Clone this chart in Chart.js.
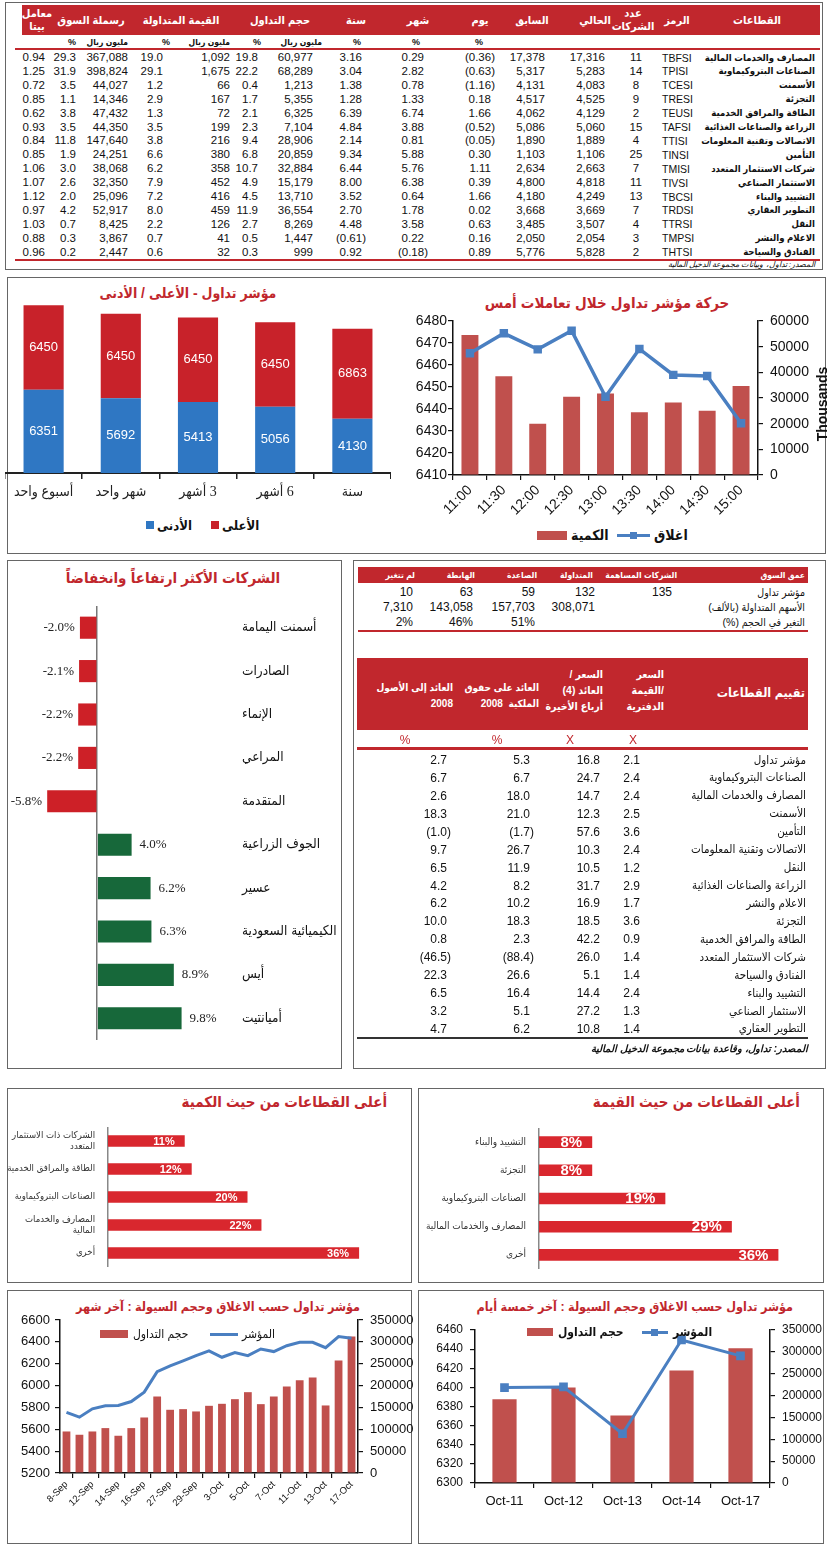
<!DOCTYPE html>
<html lang="ar">
<head>
<meta charset="utf-8">
<title>تقرير السوق</title>
<script src="https://cdn.jsdelivr.net/npm/chart.js@4.4.1/dist/chart.umd.min.js"></script>
<style>
  html, body { margin: 0; padding: 0; background: #fff; }
  #page { position: relative; width: 830px; height: 1546px; overflow: hidden;
          font-family: 'Liberation Sans', 'DejaVu Sans Condensed', 'DejaVu Sans', sans-serif; color: #111; }
  .t { position: absolute; white-space: pre; font-stretch: condensed; }
  .r { position: absolute; }
  .box { position: absolute; box-sizing: border-box; border: 1.5px solid #666; }
</style>
</head>
<body>
<div id="page"></div>
<script>
// ---------- sector performance table ----------
const sectorNames = ['المصارف والخدمات المالية', 'الصناعات البتروكيماوية', 'الأسمنت', 'التجزئة', 'الطاقة والمرافق الخدمية',
  'الزراعة والصناعات الغذائية', 'الاتصالات وتقنية المعلومات', 'التأمين', 'شركات الاستثمار المتعدد', 'الاستثمار الصناعي',
  'التشييد والبناء', 'التطوير العقاري', 'النقل', 'الاعلام والنشر', 'الفنادق والسياحة'];
const sectorCodes = ['TBFSI', 'TPISI', 'TCESI', 'TRESI', 'TEUSI', 'TAFSI', 'TTISI', 'TINSI', 'TMISI', 'TIVSI', 'TBCSI', 'TRDSI', 'TTRSI', 'TMPSI', 'THTSI'];
const companyCount = [11, 14, 8, 9, 2, 15, 4, 25, 7, 11, 13, 7, 4, 3, 2];
const closeNow = [17316, 5283, 4083, 4525, 4129, 5060, 1889, 1106, 2663, 4818, 4249, 3669, 3507, 2054, 5828];
const closePrev = [17378, 5317, 4131, 4517, 4062, 5086, 1890, 1103, 2634, 4800, 4180, 3668, 3485, 2050, 5776];
const chgDay = [-0.36, -0.63, -1.16, 0.18, 1.66, -0.52, -0.05, 0.30, 1.11, 0.39, 1.66, 0.02, 0.63, 0.16, 0.89];
const chgMonth = [0.29, 2.82, 0.78, 1.33, 6.74, 3.88, 0.81, 5.88, 5.76, 6.38, 0.64, 1.78, 3.58, 0.22, -0.18];
const chgYear = [3.16, 3.04, 1.38, 1.28, 6.39, 4.84, 2.14, 9.34, 6.44, 8.00, 3.52, 2.70, 4.48, -0.61, 0.92];
const volMn = [60977, 68289, 1213, 5355, 6325, 7104, 28906, 20859, 32884, 15179, 13710, 36554, 8269, 1447, 999];
const volPct = [19.8, 22.2, 0.4, 1.7, 2.1, 2.3, 9.4, 6.8, 10.7, 4.9, 4.5, 11.9, 2.7, 0.5, 0.3];
const valMn = [1092, 1675, 66, 167, 72, 199, 216, 380, 358, 452, 416, 459, 126, 41, 32];
const valPct = [19.0, 29.1, 1.2, 2.9, 1.3, 3.5, 3.8, 6.6, 6.2, 7.9, 7.2, 8.0, 2.2, 0.7, 0.6];
const capMn = [367088, 398824, 44027, 14346, 47432, 44350, 147640, 24251, 38068, 32350, 25096, 52917, 8425, 3867, 2447];
const capPct = [29.3, 31.9, 3.5, 1.1, 3.8, 3.5, 11.8, 1.9, 3.0, 2.6, 2.0, 4.2, 0.7, 0.3, 0.2];
const betaCoef = [0.94, 1.25, 0.72, 0.85, 0.62, 0.93, 0.84, 0.85, 1.06, 1.07, 1.12, 0.97, 1.03, 0.88, 0.96];

// ---------- TASI high / low ----------
const hlPeriods = ['أسبوع واحد', 'شهر واحد', '3 أشهر', '6 أشهر', 'سنة'];
const hlLow = [6351, 5692, 5413, 5056, 4130];
const hlHigh = [6450, 6450, 6450, 6450, 6863];

// ---------- intraday ----------
const intradayTimes = ['11:00', '11:30', '12:00', '12:30', '13:00', '13:30', '14:00', '14:30', '15:00'];
const intradayClose = [6465.3, 6474.4, 6467.1, 6475.6, 6445.6, 6467.3, 6455.5, 6455.0, 6433.5];
const intradayVolume = [54500, 38500, 20000, 30500, 31800, 24400, 28200, 25000, 34700];

// ---------- top movers ----------
const moverNames = ['أسمنت اليمامة', 'الصادرات', 'الإنماء', 'المراعي', 'المتقدمة', 'الجوف الزراعية', 'عسير', 'الكيميائية السعودية', 'أيس', 'أميانتيت'];
const moverChange = [-2.0, -2.1, -2.2, -2.2, -5.8, 4.0, 6.2, 6.3, 8.9, 9.8];

// ---------- market depth ----------
const depthHeads = ['عمق السوق', 'الشركات المساهمة', 'المتداولة', 'الصاعدة', 'الهابطة', 'لم تتغير'];
const depthRows = ['مؤشر تداول', 'الأسهم المتداولة (بالألف)', 'التغير في الحجم (%)'];
const depthCompanies = [135, 132, 59, 63, 10];
const depthShares = [308071, 157703, 143058, 7310];
const depthSharePct = [51, 46, 2];

// ---------- sector valuation ----------
const valuationSectors = ['مؤشر تداول', 'الصناعات البتروكيماوية', 'المصارف والخدمات المالية', 'الأسمنت', 'التأمين',
  'الاتصالات وتقنية المعلومات', 'النقل', 'الزراعة والصناعات الغذائية', 'الاعلام والنشر', 'التجزئة',
  'الطاقة والمرافق الخدمية', 'شركات الاستثمار المتعدد', 'الفنادق والسياحة', 'التشييد والبناء', 'الاستثمار الصناعي', 'التطوير العقاري'];
const priceBook = [2.1, 2.4, 2.4, 2.5, 3.6, 2.4, 1.2, 2.9, 1.7, 3.6, 0.9, 1.4, 1.4, 2.4, 1.3, 1.4];
const priceEarn = [16.8, 24.7, 14.7, 12.3, 57.6, 10.3, 10.5, 31.7, 16.9, 18.5, 42.2, 26.0, 5.1, 14.4, 27.2, 10.8];
const roe2008 = [5.3, 6.7, 18.0, 21.0, -1.7, 26.7, 11.9, 8.2, 10.2, 18.3, 2.3, -88.4, 26.6, 16.4, 5.1, 6.2];
const roa2008 = [2.7, 6.7, 2.6, 18.3, -1.0, 9.7, 6.5, 4.2, 6.2, 10.0, 0.8, -46.5, 22.3, 6.5, 3.2, 4.7];

// ---------- top sectors by volume / value ----------
const qtySectors = [['الشركات ذات الاستثمار', 'المتعدد'], 'الطاقة والمرافق الخدمية', 'الصناعات البتروكيماوية', ['المصارف والخدمات', 'المالية'], 'أخرى'];
const qtyShare = [11, 12, 20, 22, 36];
const valueSectors = ['التشييد والبناء', 'التجزئة', 'الصناعات البتروكيماوية', 'المصارف والخدمات المالية', 'أخرى'];
const valueShare = [8, 8, 19, 29, 36];

// ---------- last month / last five days ----------
const monthDates = ['8-Sep', '9-Sep', '12-Sep', '13-Sep', '14-Sep', '15-Sep', '16-Sep', '26-Sep', '27-Sep', '28-Sep', '29-Sep', '30-Sep',
  '3-Oct', '4-Oct', '5-Oct', '6-Oct', '7-Oct', '10-Oct', '11-Oct', '12-Oct', '13-Oct', '14-Oct', '17-Oct'];
const monthIndex = [5754, 5711, 5787, 5815, 5818, 5854, 5940, 6128, 6180, 6226, 6274, 6317,
  6259, 6302, 6274, 6335, 6311, 6365, 6396, 6396, 6347, 6448, 6433];
const monthVolume = [95000, 87500, 95000, 102700, 85200, 102700, 127000, 175000, 144600, 146100, 140800, 153700,
  158300, 168900, 184900, 157500, 175000, 197800, 212300, 218400, 154500, 257200, 312000];
const weekDates = ['Oct-11', 'Oct-12', 'Oct-13', 'Oct-14', 'Oct-17'];
const weekIndex = [6399.8, 6400.5, 6351.5, 6449.6, 6432.9];
const weekVolume = [191700, 218400, 154500, 257200, 308200];

const RED = '#c1272d';
const BAR_RED = '#c0504d';
const LINE_BLUE = '#4a7fc1';
const AR_FONT = "'DejaVu Sans Condensed', 'DejaVu Sans', sans-serif";
const page = document.getElementById('page');

function el(cls, css) {
  const d = document.createElement('div');
  d.className = cls;
  d.style.cssText = css;
  page.appendChild(d);
  return d;
}
function box(l, t, r, b) { el('box', `left:${l}px;top:${t}px;width:${r - l}px;height:${b - t}px`); }
function rect(l, t, w, h, c) { el('r', `left:${l}px;top:${t}px;width:${w}px;height:${h}px;background:${c}`); }
function put(str, x, y, o = {}) {
  const size = o.size || 11, lh = o.lh || Math.round(size * 1.3);
  const lines = String(str).split('\n').length;
  const d = el('t', `top:${y - lines * lh / 2}px;font-size:${size}px;line-height:${lh}px;`);
  d.textContent = str;
  d.dir = /[\u0600-\u06FF]/.test(str) ? 'rtl' : 'ltr';
  if (o.bold) d.style.fontWeight = 'bold';
  if (o.italic) d.style.fontStyle = 'italic';
  if (o.color) d.style.color = o.color;
  const a = o.align || 'right';
  if (a === 'right') { d.style.right = (830 - x) + 'px'; d.style.textAlign = 'right'; }
  else if (a === 'left') { d.style.left = x + 'px'; }
  else { d.style.left = (x - 150) + 'px'; d.style.width = '300px'; d.style.textAlign = 'center'; }
  return d;
}
const int = v => v.toLocaleString('en-US');
const fix = (v, d) => v < 0 ? '(' + Math.abs(v).toFixed(d) + ')' : v.toFixed(d);

// panels
box(5, 2, 823, 270);
box(7, 277, 826, 554);
box(7, 560, 342, 1069);
box(353, 560, 826, 1069);
box(7, 1088, 412, 1283);
box(418, 1088, 824, 1283);
box(7, 1290, 412, 1544);
box(418, 1290, 824, 1544);

// ---------- top table ----------
rect(22, 5, 798, 30, RED);
const topHeads = [['معامل\nبيتا', 37], ['رسملة السوق', 91], ['القيمة المتداولة', 181], ['حجم التداول', 280], ['سنة', 356],
  ['شهر', 418], ['يوم', 480], ['السابق', 532], ['الحالي', 595], ['عدد\nالشركات', 633], ['الرمز', 677], ['القطاعات', 757]];
topHeads.forEach(([s, x]) => put(s, x, 20, { align: 'center', bold: true, size: 11, lh: 13, color: '#fff' }));
[['%', 72], ['%', 166], ['%', 257], ['%', 357], ['%', 416], ['%', 479]].forEach(([s, x]) => put(s, x, 42, { align: 'center', bold: true, size: 9 }));
[128, 230, 322].forEach(x => put('مليون ريال', x, 42, { bold: true, size: 8.5 }));
rect(15, 47.5, 805, 2, RED);

const topCols = [
  { r: 45 }, { r: 76 }, { r: 128 }, { r: 163 }, { r: 230 }, { r: 258 }, { r: 313 },
  { r: 366, acc: true }, { r: 428, acc: true }, { r: 495, acc: true }, { r: 545 }, { r: 605 },
  { c: 636 }, { left: 662 }, { r: 815, name: true }
];
sectorNames.forEach((name, i) => {
  const y = 57.5 + i * 13.9;
  const cells = [betaCoef[i].toFixed(2), capPct[i].toFixed(1), int(capMn[i]), valPct[i].toFixed(1), int(valMn[i]),
    volPct[i].toFixed(1), int(volMn[i]), fix(chgYear[i], 2), fix(chgMonth[i], 2), fix(chgDay[i], 2),
    int(closePrev[i]), int(closeNow[i]), String(companyCount[i]), sectorCodes[i], name];
  cells.forEach((s, k) => {
    const c = topCols[k];
    if (c.name) put(s, c.r, y, { bold: true, size: 9.5 });
    else if (c.left) put(s, c.left, y, { align: 'left', size: 10.5 });
    else if (c.c) put(s, c.c, y, { align: 'center', size: 11.5 });
    else {
      const v = k === 7 ? chgYear[i] : k === 8 ? chgMonth[i] : chgDay[i];
      put(s, c.acc && v >= 0 ? c.r - 4 : c.r, y, { size: 11.5 });
    }
  });
});
rect(15, 259, 805, 1.5, RED);
put('المصدر: تداول، وبيانات مجموعة الدخيل المالية', 815, 264.5, { italic: true, size: 8 });

// ---------- chart helpers ----------
Chart.defaults.font.family = "'Liberation Sans', " + AR_FONT;
Chart.defaults.color = '#111';
Chart.defaults.animation = false;
Chart.defaults.maintainAspectRatio = false;
Chart.defaults.plugins.legend.display = false;
Chart.defaults.plugins.tooltip.enabled = false;

function canvasAt(l, t, w, h, dir) {
  const d = el('r', `left:${l}px;top:${t}px;width:${w}px;height:${h}px`);
  const c = document.createElement('canvas');
  if (dir) c.dir = dir;
  d.appendChild(c);
  return c;
}
// fixes an axis' thickness so the plot areas land where the reference has them
function fixSize(size) {
  return function (scale) {
    if (scale.isHorizontal()) scale.height = size; else scale.width = size;
    scale.paddingTop = scale.paddingBottom = scale.paddingLeft = scale.paddingRight = 0;
  };
}
function barText(draw) {
  return {
    id: 'barText',
    afterDatasetsDraw(chart) {
      const ctx = chart.ctx;
      chart.data.datasets.forEach((ds, di) => {
        const meta = chart.getDatasetMeta(di);
        if (meta.type !== 'bar') return;
        meta.data.forEach((bar, i) => { ctx.save(); draw(ctx, bar, ds.data[i]); ctx.restore(); });
      });
    }
  };
}
const plain = v => String(v);
function sideAxis(opts) {
  return Object.assign({
    grid: { drawOnChartArea: false, tickLength: 5, color: '#111', lineWidth: 1.2 },
    border: { color: '#111', width: 1.5 },
  }, opts);
}

// ---------- TASI high / low ----------
put('مؤشر تداول - الأعلى / الأدنى', 188, 293, { align: 'center', bold: true, size: 14, color: RED });
new Chart(canvasAt(5, 296, 386, 217, 'rtl'), {
  type: 'bar',
  data: {
    labels: hlPeriods,
    datasets: [
      { label: 'الأدنى', data: hlLow, backgroundColor: '#2f77c3' },
      { label: 'الأعلى', data: hlHigh, backgroundColor: '#c8222a' }
    ]
  },
  options: {
    datasets: { bar: { barPercentage: 0.52, categoryPercentage: 1 } },
    scales: {
      x: {
        stacked: true,
        grid: { drawOnChartArea: false, tickLength: 6, color: '#222', lineWidth: 1.5 },
        border: { color: '#222', width: 2 },
        ticks: { font: { family: "'Liberation Serif', " + AR_FONT, size: 14 }, color: '#222', padding: 5,
                 maxRotation: 0, minRotation: 0, autoSkip: false },
        afterFit: fixSize(40)
      },
      y: { stacked: true, display: false, min: 0, max: 13500 }
    }
  },
  plugins: [barText((ctx, bar, v) => {
    ctx.fillStyle = '#fff';
    ctx.font = "13px 'Liberation Sans'";
    ctx.textAlign = 'center';
    ctx.textBaseline = 'middle';
    ctx.fillText(v, bar.x, (bar.y + bar.base) / 2);
  })]
});
rect(146, 521, 8, 8, '#2f77c3');
put('الأدنى', 157, 525, { align: 'left', bold: true, size: 13 });
rect(211, 521, 8, 8, '#c8222a');
put('الأعلى', 222, 525, { align: 'left', bold: true, size: 13 });

// ---------- intraday ----------
put('حركة مؤشر تداول خلال تعاملات أمس', 607, 303, { align: 'center', bold: true, size: 15, color: RED });
new Chart(canvasAt(400, 313, 428, 212), {
  data: {
    labels: intradayTimes,
    datasets: [
      { type: 'line', label: 'اغلاق', data: intradayClose, yAxisID: 'y', borderColor: LINE_BLUE, backgroundColor: LINE_BLUE,
        borderWidth: 3.5, pointStyle: 'rect', pointRadius: 3.5, order: 0 },
      { type: 'bar', label: 'الكمية', data: intradayVolume, yAxisID: 'y1', backgroundColor: BAR_RED,
        barPercentage: 0.5, categoryPercentage: 1, order: 1 }
    ]
  },
  options: {
    layout: { padding: { top: 8 } },
    scales: {
      x: sideAxis({ ticks: { maxRotation: 45, minRotation: 45, font: { size: 14 }, padding: 2 }, afterFit: fixSize(50) }),
      y: sideAxis({ position: 'left', min: 6410, max: 6480, ticks: { stepSize: 10, font: { size: 14 }, padding: 1, callback: plain }, afterFit: fixSize(53) }),
      y1: sideAxis({ position: 'right', min: 0, max: 60000, ticks: { stepSize: 10000, font: { size: 14 }, padding: 7, callback: plain }, afterFit: fixSize(70) })
    }
  }
});
put('Thousands', 822, 404, { align: 'center', bold: true, size: 14 }).style.transform = 'rotate(-90deg)';
rect(537, 531, 30, 9, BAR_RED);
put('الكمية', 571, 535, { align: 'left', bold: true, size: 14 });
rect(617, 534, 33, 3, LINE_BLUE);
rect(630, 532, 7, 7, LINE_BLUE);
put('اغلاق', 654, 535, { align: 'left', bold: true, size: 14 });

// ---------- top movers ----------
put('الشركات الأكثر ارتفاعاً وانخفاضاً', 173, 578, { align: 'center', bold: true, size: 15, color: RED });
new Chart(canvasAt(5, 606, 335, 434), {
  type: 'bar',
  data: { labels: moverNames, datasets: [{ data: moverChange, backgroundColor: c => c.raw < 0 ? '#cd2027' : '#17683a' }] },
  options: {
    indexAxis: 'y',
    layout: { padding: { left: 6 } },
    datasets: { bar: { barPercentage: 0.51, categoryPercentage: 1 } },
    scales: {
      x: {
        min: -10, max: 16,
        ticks: { display: false, stepSize: 2 },
        grid: { drawTicks: false, lineWidth: 1.5, color: c => c.tick && c.tick.value === 0 ? '#777' : 'transparent' },
        border: { display: false },
        afterFit: fixSize(0)
      },
      y: {
        position: 'right',
        grid: { display: false, drawTicks: false },
        border: { display: false },
        ticks: { font: { family: AR_FONT, size: 13.5 }, color: '#111', padding: 7 },
        afterFit: fixSize(105)
      }
    }
  },
  plugins: [barText((ctx, bar, v) => {
    ctx.fillStyle = '#222';
    ctx.font = "13px 'Liberation Serif'";
    ctx.textBaseline = 'middle';
    ctx.textAlign = v < 0 ? 'right' : 'left';
    ctx.fillText(v.toFixed(1) + '%', bar.x + (v < 0 ? -5 : 8), bar.y);
  })]
});

// ---------- market depth ----------
rect(358, 567, 450, 16, RED);
const depthHeadX = [805, 677, 593, 537, 475, 415];
depthHeads.forEach((s, k) => put(s, depthHeadX[k], 575, { bold: true, size: 8.5, color: '#fff' }));
const depthColX = [672, 595, 535, 473, 413];
depthRows.forEach((s, r) => put(s, 805, 592 + r * 15, { size: 10.5 }));
depthCompanies.forEach((v, k) => put(int(v), depthColX[k], 592, { size: 12 }));
depthShares.forEach((v, k) => put(int(v), depthColX[k + 1], 607, { size: 12 }));
depthSharePct.forEach((v, k) => put(v + '%', depthColX[k + 2], 622, { size: 12 }));
rect(358, 630, 450, 2, RED);

// ---------- sector valuation ----------
rect(357, 658, 451, 72, RED);
put('تقييم القطاعات', 805, 693, { bold: true, size: 12.5, color: '#fff' });
put('السعر\n/القيمة\nالدفترية', 664, 690, { bold: true, size: 10.5, lh: 16, color: '#fff' });
put('السعر /\nالعائد (4)\nأرباع الأخيرة', 603, 690, { bold: true, size: 10.5, lh: 16, color: '#fff' });
put('العائد على حقوق\nالملكية  2008', 539, 696, { bold: true, size: 10, lh: 16, color: '#fff' });
put('العائد إلى الأصول\n2008', 453, 696, { bold: true, size: 10, lh: 16, color: '#fff' });
[['%', 405], ['%', 497], ['X', 570], ['X', 633]].forEach(([s, x]) => put(s, x, 740, { align: 'center', size: 12, color: RED }));
rect(357, 747, 451, 3, RED);
valuationSectors.forEach((name, i) => {
  const y = 760 + i * 17.93;
  put(name, 806, y, { size: 11.5 });
  put(priceBook[i].toFixed(1), 640, y, { size: 12 });
  put(priceEarn[i].toFixed(1), 600, y, { size: 12 });
  put(fix(roe2008[i], 1), roe2008[i] < 0 ? 534 : 530, y, { size: 12 });
  put(fix(roa2008[i], 1), roa2008[i] < 0 ? 451 : 447, y, { size: 12 });
});
rect(357, 1037, 451, 2, '#333');
put('المصدر: تداول، وقاعدة بيانات مجموعة الدخيل المالية', 808, 1048, { bold: true, italic: true, size: 10 });

// ---------- top sectors by volume / value ----------
function shareChart(canvas, labels, data, axisW, labelSize, fontSize) {
  return new Chart(canvas, {
    type: 'bar',
    data: { labels: labels, datasets: [{ data: data, backgroundColor: '#d9272e' }] },
    options: {
      indexAxis: 'y',
      datasets: { bar: { barPercentage: 0.41, categoryPercentage: 1 } },
      scales: {
        x: { display: false, min: 0, max: 40 },
        y: {
          grid: { display: false, drawTicks: false },
          border: { display: true, color: '#888', width: 1.5 },
          ticks: { font: { family: AR_FONT, size: fontSize }, color: '#333', padding: 13 },
          afterFit: fixSize(axisW)
        }
      }
    },
    plugins: [barText((ctx, bar, v) => {
      ctx.fillStyle = '#fff';
      ctx.font = `bold ${labelSize}px 'Liberation Sans'`;
      ctx.textAlign = 'right';
      ctx.textBaseline = 'middle';
      ctx.fillText(v + '%', bar.x - 10, bar.y + 0.5);
    })]
  });
}
put('أعلى القطاعات من حيث الكمية', 387, 1102, { bold: true, size: 15, color: RED });
shareChart(canvasAt(5, 1127, 382, 140), qtySectors, qtyShare, 103, 11, 9.5);
put('أعلى القطاعات من حيث القيمة', 800, 1102, { bold: true, size: 15, color: RED });
shareChart(canvasAt(420, 1128, 385, 141), valueSectors, valueShare, 119, 15, 10);

// ---------- index close and liquidity ----------
function closeVolumeChart(canvas, labels, index, volume, idx, opts) {
  return new Chart(canvas, {
    data: {
      labels: labels,
      datasets: [
        { type: 'line', label: 'المؤشر', data: index, yAxisID: 'y', borderColor: LINE_BLUE, backgroundColor: LINE_BLUE,
          borderWidth: 3, pointStyle: 'rect', pointRadius: opts.point, order: 0 },
        { type: 'bar', label: 'حجم التداول', data: volume, yAxisID: 'y1', backgroundColor: BAR_RED,
          barPercentage: opts.barPct, categoryPercentage: 1, order: 1 }
      ]
    },
    options: {
      layout: { padding: { top: 8 } },
      scales: {
        x: sideAxis({
          grid: { drawOnChartArea: false, tickLength: 5, lineWidth: 1.2, color: opts.tickColor },
          ticks: opts.xTicks, afterFit: fixSize(opts.xH)
        }),
        y: sideAxis({ position: 'left', min: idx[0], max: idx[1], ticks: { stepSize: idx[2], font: { size: opts.yFont }, padding: opts.padL, callback: plain }, afterFit: fixSize(opts.wL) }),
        y1: sideAxis({ position: 'right', min: 0, max: 350000, ticks: { stepSize: 50000, font: { size: opts.yFont }, padding: 7, callback: plain }, afterFit: fixSize(opts.wR) })
      }
    }
  });
}
put('مؤشر تداول حسب الاغلاق وحجم السيولة : آخر شهر', 218, 1307, { align: 'center', bold: true, size: 12.5, color: RED });
closeVolumeChart(canvasAt(5, 1312, 410, 206), monthDates, monthIndex, monthVolume, [5200, 6600, 200], {
  point: 0, barPct: 0.6, xH: 45, wL: 55, wR: 57, yFont: 13, padL: 5,
  tickColor: c => c.index % 2 === 1 ? '#111' : 'transparent',
  xTicks: {
    autoSkip: false, maxRotation: 45, minRotation: 45, font: { size: 9.5 }, padding: 1,
    callback: function (v, i) { return i % 2 === 0 ? this.getLabelForValue(v) : ''; }
  }
});
rect(100, 1330, 28, 8, BAR_RED);
put('حجم التداول', 133, 1334, { align: 'left', size: 12 });
rect(210, 1333, 28, 3, LINE_BLUE);
put('المؤشر', 242, 1334, { align: 'left', size: 12 });

put('مؤشر تداول حسب الاغلاق وحجم السيولة : آخر خمسة أيام', 643, 1307, { align: 'center', bold: true, size: 12.5, color: RED });
closeVolumeChart(canvasAt(418, 1322, 405, 196), weekDates, weekIndex, weekVolume, [6300, 6460, 20], {
  point: 4, barPct: 0.41, xH: 35, wL: 57, wR: 53, yFont: 12, padL: 7,
  tickColor: '#111',
  xTicks: { font: { size: 13 }, padding: 6 }
});
rect(527, 1328, 26, 8, BAR_RED);
put('حجم التداول', 558, 1332, { align: 'left', bold: true, size: 12 });
rect(642, 1331, 26, 3, LINE_BLUE);
rect(651, 1329, 7, 7, LINE_BLUE);
put('المؤشر', 673, 1332, { align: 'left', bold: true, size: 12 });
</script>
</body>
</html>
